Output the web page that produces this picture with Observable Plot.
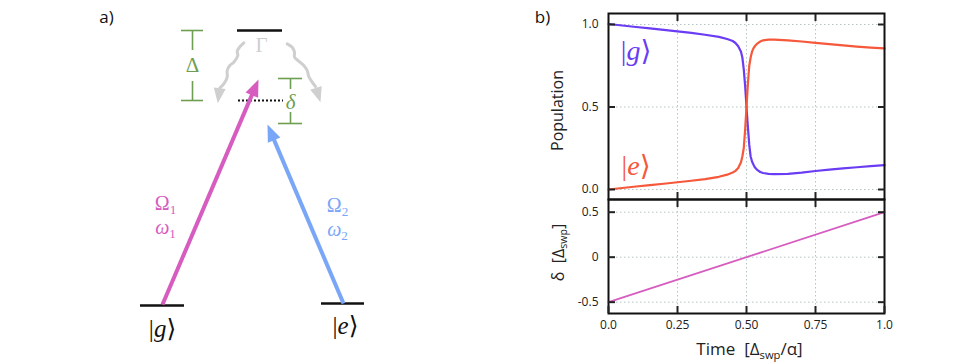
<!DOCTYPE html>
<html>
<head>
<meta charset="utf-8">
<script src="https://cdn.jsdelivr.net/npm/d3@7"></script>
<script src="https://cdn.jsdelivr.net/npm/@observablehq/plot@0.6"></script>
<style>
  html, body { margin: 0; padding: 0; background: #fff; }
  #root { position: relative; width: 969px; height: 363px; overflow: hidden; background: #fff; }
  #root > svg { position: absolute; }
</style>
</head>
<body>
<div id="root"></div>
<script>
// ---------------- data: panel b ----------------
const time = [0, 0.05, 0.1, 0.15, 0.2, 0.25, 0.3, 0.35, 0.4, 0.43, 0.45, 0.46, 0.47, 0.48, 0.485, 0.49, 0.495, 0.5, 0.505, 0.51, 0.515, 0.52, 0.525, 0.53, 0.54, 0.55, 0.56, 0.58, 0.6, 0.65, 0.7, 0.75, 0.8, 0.85, 0.9, 0.95, 1.0];
const popG = [1.003, 0.994, 0.985, 0.976, 0.967, 0.958, 0.949, 0.938, 0.925, 0.912, 0.9, 0.888, 0.868, 0.835, 0.8, 0.73, 0.63, 0.5, 0.38, 0.27, 0.2, 0.17, 0.152, 0.135, 0.117, 0.106, 0.1, 0.095, 0.093, 0.095, 0.102, 0.112, 0.12, 0.128, 0.135, 0.142, 0.148];
const popE = [0, 0.009, 0.018, 0.027, 0.035, 0.044, 0.053, 0.063, 0.077, 0.09, 0.103, 0.113, 0.13, 0.165, 0.2, 0.25, 0.36, 0.5, 0.64, 0.75, 0.8, 0.835, 0.855, 0.868, 0.886, 0.897, 0.904, 0.908, 0.908, 0.904, 0.897, 0.889, 0.881, 0.873, 0.866, 0.86, 0.855];
const detuningTime = [0, 1];
const detuning = [-0.5, 0.5];

const xTicks = [0, 0.25, 0.5, 0.75, 1];
const xTickLabels = ["0.0", "0.25", "0.50", "0.75", "1.0"];
const popTicks = [0, 0.5, 1];
const popTickLabels = ["0.0", "0.5", "1.0"];
const detTicks = [-0.5, 0, 0.5];
const detTickLabels = ["-0.5", "0", "0.5"];

const seriesNames = ["|*g*⟩", "|*e*⟩"];
const seriesLabelAt = [{t: 0.1, v: 0.842}, {t: 0.1, v: 0.145}];

// ---------------- data: panel a (level diagram geometry) ----------------
const levels = [
  {id: "excited", x1: 237, x2: 282, y: 30},
  {id: "g", x1: 140, x2: 184, y: 305},
  {id: "e", x1: 321, x2: 364, y: 303}
];
const virtualLevels = [{x1: 238, x2: 283, y: 100}];
const drives = [
  {id: 1, x1: 162, y1: 304, x2: 258, y2: 79},
  {id: 2, x1: 343, y1: 303, x2: 267, y2: 124}
];
const decayPaths = [
  [[243.3, 42.3], [239, 46.7], [236.7, 50.7], [237.3, 55], [233.3, 61.7], [229.3, 65], [226.7, 70], [226.7, 76.7], [223.3, 83.3], [219.3, 87.3]],
  [[286.7, 43.3], [291.7, 46.7], [294, 51.7], [294, 56.7], [298.3, 60.7], [303.3, 65], [306.7, 70], [308.3, 76], [311.7, 81.7], [315, 86]]
];
const decayTips = [[217.3, 102.7], [320, 101.7]];
const brackets = [
  {x: 192, y1: 30, y2: 100, gap1: 50, gap2: 81, half: 11},
  {x: 290, y1: 78, y2: 123, gap1: 89, gap2: 112, half: 12}
];
const diagramTexts = [
  {role: "panel", text: "a)", x: 106, y: 17},
  {role: "decay", text: "Γ", x: 261, y: 45},
  {role: "det", text: "Δ", x: 192, y: 65},
  {role: "det", text: "*δ*", x: 290, y: 102},
  {role: "drive1", text: "Ω_{1}", x: 165, y: 203},
  {role: "drive1", text: "*ω*_{1}", x: 165, y: 227},
  {role: "drive2", text: "Ω_{2}", x: 337, y: 205},
  {role: "drive2", text: "*ω*_{2}", x: 337, y: 229},
  {role: "ket", text: "|*g*⟩", x: 162, y: 328},
  {role: "ket", text: "|*e*⟩", x: 345, y: 325}
];

// ---------------- styles ----------------
const PURPLE = "#6a3cf4", RED = "#f5583a", PINK = "#d65cbf", BLUE = "#7aa6f7", GREEN = "#6e9e52", GRAY = "#cfcfcf";
const SERIF = "Liberation Serif, DejaVu Serif, serif";
const SANS = "Open Sans, Noto Sans, sans-serif";
const roleStyle = {
  panel: {fill: "#111", fontFamily: SANS, fontSize: 17},
  decay: {fill: GRAY, fontFamily: SERIF, fontSize: 21},
  det: {fill: GREEN, fontFamily: SERIF, fontSize: 21},
  drive1: {fill: PINK, fontFamily: SERIF, fontSize: 20},
  drive2: {fill: BLUE, fontFamily: SERIF, fontSize: 20},
  ket: {fill: "#111", fontFamily: SERIF, fontSize: 25}
};
const driveColor = {1: PINK, 2: BLUE};

const arrowHead = {
  draw(context, size) {
    const r = Math.sqrt(size / Math.PI);
    context.moveTo(0, 0);
    context.lineTo(-r, 2.5 * r);
    context.lineTo(r, 2.5 * r);
    context.closePath();
  }
};
const angleOf = (x1, y1, x2, y2) => Math.atan2(x2 - x1, -(y2 - y1)) * 180 / Math.PI;

// ---------------- panel a ----------------
const diagramMarks = [];
diagramMarks.push(Plot.ruleY(levels, {y: "y", x1: "x1", x2: "x2", stroke: "#111", strokeWidth: 2.6}));
diagramMarks.push(Plot.ruleY(virtualLevels, {y: "y", x1: "x1", x2: "x2", stroke: "#111", strokeWidth: 2.2, strokeDasharray: "2,2"}));
const bracketBars = brackets.flatMap(b => [{x1: b.x - b.half, x2: b.x + b.half, y: b.y1}, {x1: b.x - b.half, x2: b.x + b.half, y: b.y2}]);
const bracketStems = brackets.flatMap(b => [{x: b.x, y1: b.y1, y2: b.gap1}, {x: b.x, y1: b.gap2, y2: b.y2}]);
diagramMarks.push(Plot.ruleY(bracketBars, {y: "y", x1: "x1", x2: "x2", stroke: GREEN, strokeWidth: 1.6}));
diagramMarks.push(Plot.ruleX(bracketStems, {x: "x", y1: "y1", y2: "y2", stroke: GREEN, strokeWidth: 1.6}));
const decayPts = decayPaths.flatMap((p, k) => p.map(([x, y]) => ({path: k, x, y})));
diagramMarks.push(Plot.line(decayPts, {x: "x", y: "y", z: "path", curve: "catmull-rom", stroke: GRAY, strokeWidth: 3}));
const decayHeads = decayTips.map(([x, y], k) => {
  const [px, py] = decayPaths[k][decayPaths[k].length - 1];
  return {x, y, angle: angleOf(px, py, x, y)};
});
diagramMarks.push(Plot.dot(decayHeads, {x: "x", y: "y", symbol: arrowHead, r: 6, fill: GRAY, stroke: null, rotate: "angle"}));
for (const d of drives) {
  const len = Math.hypot(d.x2 - d.x1, d.y2 - d.y1);
  const ux = (d.x2 - d.x1) / len, uy = (d.y2 - d.y1) / len;
  const head = 14;
  diagramMarks.push(Plot.link([d], {x1: "x1", y1: "y1", x2: e => e.x2 - ux * head, y2: e => e.y2 - uy * head, stroke: driveColor[d.id], strokeWidth: 4}));
  diagramMarks.push(Plot.dot([d], {x: "x2", y: "y2", symbol: arrowHead, r: 6.8, fill: driveColor[d.id], stroke: null, rotate: angleOf(d.x1, d.y1, d.x2, d.y2)}));
}
for (const role of Object.keys(roleStyle)) {
  diagramMarks.push(Plot.text(diagramTexts.filter(t => t.role === role), {x: "x", y: "y", text: "text", textAnchor: "middle", lineAnchor: "middle", ...roleStyle[role]}));
}
const diagramPlot = Plot.plot({
  width: 400, height: 363, margin: 0,
  x: {domain: [0, 400], range: [0, 400], axis: null},
  y: {domain: [0, 363], range: [0, 363], axis: null},
  style: {background: "transparent", overflow: "visible"},
  marks: diagramMarks
});

// ---------------- panel b ----------------
const gRows = time.map((t, i) => ({t, v: popG[i]}));
const eRows = time.map((t, i) => ({t, v: popE[i]}));
const detRows = detuningTime.map((t, i) => ({t, v: detuning[i]}));
const xInner = xTicks.slice(1, -1);
const lab = (ticks, labels) => { const m = new Map(ticks.map((t, i) => [t, labels[i]])); return d => m.get(d); };
const gridStyle = {stroke: "#b7c4c4", strokeOpacity: 1, strokeWidth: 1, strokeDasharray: "1.5,2.5"};
const tickStyle = {tickSize: -7, strokeWidth: 2, label: null};
const none = () => "";

const popPlot = Plot.plot({
  width: 370, height: 200,
  marginLeft: 78, marginRight: 16, marginTop: 13, marginBottom: 1,
  x: {domain: [0, 1]},
  y: {domain: [-0.0606, 1.0667]},
  style: {background: "transparent", fontFamily: SANS, fontSize: "12px", color: "#222", overflow: "visible"},
  marks: [
    Plot.gridX(xInner, gridStyle),
    Plot.gridY(popTicks, gridStyle),
    Plot.line(gRows, {x: "t", y: "v", stroke: PURPLE, strokeWidth: 2.2}),
    Plot.line(eRows, {x: "t", y: "v", stroke: RED, strokeWidth: 2.2}),
    Plot.frame({stroke: "#111", strokeWidth: 2}),
    Plot.axisY(popTicks, {anchor: "left", ...tickStyle, tickPadding: 17, tickFormat: lab(popTicks, popTickLabels)}),
    Plot.axisY(popTicks, {anchor: "right", ...tickStyle, tickFormat: none}),
    Plot.axisX(xInner, {anchor: "top", ...tickStyle, tickFormat: none}),
    Plot.axisX(xInner, {anchor: "bottom", ...tickStyle, tickFormat: none}),
    Plot.text(seriesNames.map((n, i) => ({n, ...seriesLabelAt[i]})), {x: "t", y: "v", text: "n", fill: (d, i) => i === 0 ? PURPLE : RED, fontFamily: SERIF, fontSize: 28}),
    Plot.text(["Population"], {text: d => d, frameAnchor: "left", dx: -51, dy: 4, rotate: -90, textAnchor: "middle", lineAnchor: "middle", fontSize: 16}),
    Plot.text(["b)"], {text: d => d, frameAnchor: "top-left", dx: -66, dy: 4, textAnchor: "middle", lineAnchor: "middle", fontSize: 17, fill: "#111"})
  ]
});

const detPlot = Plot.plot({
  width: 370, height: 164,
  marginLeft: 78, marginRight: 16, marginTop: 0, marginBottom: 50,
  x: {domain: [0, 1]},
  y: {domain: [-0.626, 0.641]},
  style: {background: "transparent", fontFamily: SANS, fontSize: "12px", color: "#222", overflow: "visible"},
  marks: [
    Plot.gridX(xInner, gridStyle),
    Plot.gridY(detTicks, gridStyle),
    Plot.line(detRows, {x: "t", y: "v", stroke: PINK, strokeWidth: 1.8}),
    Plot.frame({stroke: "#111", strokeWidth: 2}),
    Plot.axisY(detTicks, {anchor: "left", ...tickStyle, tickPadding: 17, tickFormat: lab(detTicks, detTickLabels)}),
    Plot.axisY(detTicks, {anchor: "right", ...tickStyle, tickFormat: none}),
    Plot.axisX(xInner, {anchor: "top", ...tickStyle, tickFormat: none}),
    Plot.axisX(xTicks, {anchor: "bottom", ...tickStyle, tickPadding: 14, tickFormat: lab(xTicks, xTickLabels)}),
    Plot.text(["δ  [Δ_{swp}]"], {text: d => d, frameAnchor: "left", dx: -50, dy: -4, rotate: -90, textAnchor: "middle", lineAnchor: "middle", fontSize: 16}),
    Plot.text(["Time  [Δ_{swp}/α]"], {text: d => d, frameAnchor: "bottom", dx: 3, dy: 36, textAnchor: "middle", lineAnchor: "middle", fontSize: 17})
  ]
});

const root = document.getElementById("root");
diagramPlot.style.left = "0px"; diagramPlot.style.top = "0px";
popPlot.style.left = "530px"; popPlot.style.top = "0px";
detPlot.style.left = "530px"; detPlot.style.top = "199px";
root.append(diagramPlot, popPlot, detPlot);

// rich text: *italic* and _{subscript}
function rich(svg) {
  svg.querySelectorAll("text").forEach(el => {
    const s = el.textContent;
    if (!/[_*]/.test(s)) return;
    const fs = parseFloat(getComputedStyle(el).fontSize) || 12;
    const parts = [];
    const re = /_\{([^}]*)\}|\*([^*]*)\*|([^_*]+)/g;
    let m;
    while ((m = re.exec(s))) parts.push(m[1] != null ? {t: m[1], sub: true} : m[2] != null ? {t: m[2], it: true} : {t: m[3]});
    el.textContent = "";
    let shift = 0;
    for (const p of parts) {
      const ts = document.createElementNS("http://www.w3.org/2000/svg", "tspan");
      ts.textContent = p.t;
      const target = p.sub ? fs * 0.22 : 0;
      if (target !== shift) { ts.setAttribute("dy", (target - shift).toFixed(2)); shift = target; }
      if (p.sub) ts.setAttribute("font-size", (fs * 0.66).toFixed(2));
      ts.setAttribute("font-style", p.it ? "italic" : "normal");
      el.appendChild(ts);
    }
  });
}
[diagramPlot, popPlot, detPlot].forEach(rich);
</script>
</body>
</html>
